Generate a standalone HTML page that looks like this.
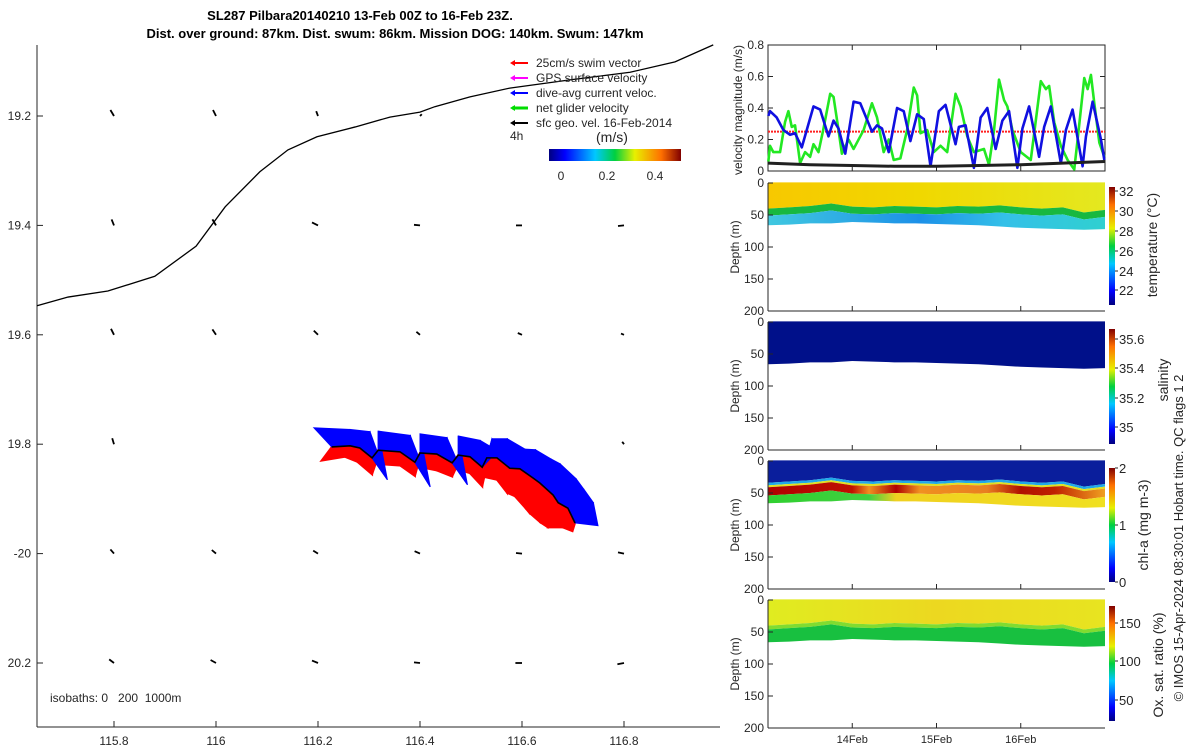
<!DOCTYPE html>
<html><head><meta charset="utf-8"><style>
body{margin:0;background:#fff;}
svg{display:block;font-family:"Liberation Sans","DejaVu Sans",sans-serif;}
text{fill:#262626;font-size:12px;}
</style></head><body>
<svg id="s" width="1200" height="750" viewBox="0 0 1200 750" xmlns="http://www.w3.org/2000/svg">
<defs>
<linearGradient id="jet" x1="0" y1="1" x2="0" y2="0">
<stop offset="0" stop-color="#00007f"/><stop offset="0.12" stop-color="#0000ff"/><stop offset="0.35" stop-color="#00c8ff"/><stop offset="0.5" stop-color="#00d040"/><stop offset="0.65" stop-color="#e8f000"/><stop offset="0.85" stop-color="#ff7000"/><stop offset="1" stop-color="#800000"/></linearGradient>
<linearGradient id="jeth" x1="0" y1="0" x2="1" y2="0">
<stop offset="0" stop-color="#00007f"/><stop offset="0.12" stop-color="#0000ff"/><stop offset="0.35" stop-color="#00c8ff"/><stop offset="0.5" stop-color="#00d040"/><stop offset="0.65" stop-color="#e8f000"/><stop offset="0.85" stop-color="#ff7000"/><stop offset="1" stop-color="#800000"/></linearGradient>
<linearGradient id="tTop" x1="0" y1="0" x2="1" y2="0"><stop offset="0" stop-color="#f7c800"/><stop offset="0.45" stop-color="#f0d800"/><stop offset="1" stop-color="#e4e820"/></linearGradient>
<linearGradient id="tLow" x1="0" y1="0" x2="1" y2="0"><stop offset="0" stop-color="#40c8e0"/><stop offset="0.45" stop-color="#1c90e8"/><stop offset="0.7" stop-color="#34c0e8"/><stop offset="1" stop-color="#30d0d0"/></linearGradient>
<linearGradient id="cRed" x1="0" y1="0" x2="1" y2="0"><stop offset="0" stop-color="#b00000"/><stop offset="0.25" stop-color="#c01000"/><stop offset="0.3" stop-color="#f09020"/><stop offset="0.38" stop-color="#b00000"/><stop offset="0.45" stop-color="#f09020"/><stop offset="0.65" stop-color="#e88020"/><stop offset="0.75" stop-color="#b01000"/><stop offset="0.85" stop-color="#c02000"/><stop offset="1" stop-color="#f0a020"/></linearGradient>
<linearGradient id="cLow" x1="0" y1="0" x2="1" y2="0"><stop offset="0" stop-color="#30d030"/><stop offset="0.3" stop-color="#40d040"/><stop offset="0.38" stop-color="#f0d020"/><stop offset="1" stop-color="#f0e020"/></linearGradient>
<linearGradient id="oTop" x1="0" y1="0" x2="1" y2="0"><stop offset="0" stop-color="#e0ec20"/><stop offset="0.5" stop-color="#ecd820"/><stop offset="1" stop-color="#e8e420"/></linearGradient>
</defs>
<g id="map"></g>
<g id="vel"></g>
<g id="sec"></g>
<text x="360" y="20" text-anchor="middle" style="font-weight:bold;font-size:13px;fill:#000">SL287 Pilbara20140210 13-Feb 00Z to 16-Feb 23Z.</text>
<text x="395" y="38" text-anchor="middle" style="font-weight:bold;font-size:13px;fill:#000">Dist. over ground: 87km. Dist. swum: 86km. Mission DOG: 140km. Swum: 147km</text>
<text transform="translate(1183,538) rotate(-90)" text-anchor="middle" style="font-size:13px">© IMOS 15-Apr-2024 08:30:01 Hobart time. QC flags 1  2</text>
</svg>
<script>
// ---------- data ----------
const coastLon=[115.649,115.710,115.788,115.880,115.961,116.018,116.086,116.141,116.198,116.273,116.341,116.400,116.429,116.498,116.576,116.694,116.812,116.900,116.975];
const coastLat=[19.547,19.531,19.520,19.493,19.438,19.366,19.302,19.262,19.238,19.220,19.202,19.193,19.183,19.165,19.149,19.134,19.120,19.101,19.070];
const trackLon=[116.227,116.263,116.282,116.306,116.318,116.361,116.390,116.400,116.433,116.463,116.475,116.498,116.522,116.531,116.551,116.576,116.596,116.622,116.635,116.661,116.671,116.690,116.704];
const trackLat=[19.805,19.803,19.807,19.825,19.811,19.814,19.833,19.816,19.818,19.834,19.820,19.823,19.842,19.825,19.825,19.844,19.845,19.862,19.871,19.893,19.907,19.917,19.944];
const curU=[-0.035,0.0,0.02,0.03,0.0,0.02,0.03,0.0,0.02,0.03,0.0,0.02,0.03,0.01,0.02,0.03,0.03,0.035,0.04,0.045,0.05,0.05,0.045];
const curV=[-0.035,-0.03,-0.03,0.04,-0.035,-0.03,0.045,-0.035,-0.03,0.04,-0.035,-0.03,-0.03,-0.035,-0.035,-0.035,-0.035,-0.035,-0.035,-0.03,-0.025,-0.01,0.005];
const swimU=[-0.02,-0.01,-0.005,0,-0.005,0,0,-0.005,0,0,-0.005,0,0,-0.005,0,-0.005,-0.01,-0.015,-0.02,-0.025,-0.02,-0.01,-0.005];
const swimV=[0.025,0.02,0.025,0.03,0.025,0.025,0.025,0.025,0.03,0.025,0.025,0.03,0.035,0.035,0.04,0.045,0.05,0.055,0.055,0.05,0.045,0.035,0.015];
const gridLon=[115.8,116.0,116.2,116.4,116.6,116.8];
const gridLat=[19.2,19.4,19.6,19.8,20.0,20.2];
const geoDx=[[-0.6,-0.5,-0.3,0.3,null,null],[-0.4,-0.6,-1,-1,-1,-1],[-0.5,-0.6,-0.7,-0.6,-0.7,-0.5],[-0.3,null,null,null,null,-0.3],[-0.6,-0.7,-0.8,-0.9,-1,-1],[-0.8,-0.9,-1,-1,-1.1,-1.1]];
const geoDy=[[-1,-1,-0.8,-0.3,null,null],[-1,-1,-0.5,-0.1,0,0.1],[-1,-0.9,-0.7,-0.5,-0.3,-0.2],[-1,null,null,null,null,-0.4],[-0.7,-0.6,-0.5,-0.4,-0.1,-0.2],[-0.6,-0.5,-0.4,-0.1,0,0.2]];
const lonTicks=[115.8,116.0,116.2,116.4,116.6,116.8];
const lonLabels=["115.8","116","116.2","116.4","116.6","116.8"];
const latTicks=[19.2,19.4,19.6,19.8,20.0,20.2];
const latLabels=["19.2","19.4","19.6","19.8","-20","20.2"];

const blueT=[0.004,0.024,0.103,0.183,0.262,0.321,0.401,0.540,0.619,0.718,0.778,0.837,0.917,1.016,1.095,1.234,1.294,1.353,1.433,1.532,1.611,1.690,1.770,1.849,1.929,2.028,2.107,2.226,2.266,2.345,2.444,2.524,2.603,2.702,2.782,2.861,2.960,3.020,3.099,3.218,3.278,3.357,3.476,3.536,3.615,3.734,3.774,3.853,3.952,3.992];
const blueV=[0.35,0.38,0.34,0.26,0.23,0.24,0.15,0.41,0.39,0.22,0.32,0.27,0.11,0.44,0.43,0.25,0.29,0.27,0.12,0.40,0.38,0.19,0.36,0.33,0.03,0.38,0.42,0.17,0.28,0.29,0.02,0.34,0.40,0.14,0.32,0.38,0.02,0.27,0.41,0.09,0.28,0.41,0.05,0.26,0.39,0.03,0.22,0.44,0.20,0.07];
const greenT=[0.004,0.024,0.063,0.143,0.202,0.242,0.282,0.321,0.381,0.440,0.5,0.540,0.599,0.659,0.738,0.778,0.837,0.877,0.956,1.016,1.135,1.234,1.294,1.373,1.433,1.492,1.571,1.651,1.730,1.770,1.810,1.889,1.968,2.048,2.127,2.226,2.286,2.365,2.444,2.563,2.623,2.683,2.742,2.802,2.841,2.901,3.0,3.119,3.238,3.298,3.337,3.397,3.476,3.556,3.635,3.675,3.754,3.794,3.833,3.873,3.933,3.992];
const greenV=[0.06,0.16,0.12,0.12,0.31,0.38,0.28,0.29,0.05,0.12,0.09,0.17,0.12,0.27,0.49,0.47,0.26,0.11,0.20,0.14,0.26,0.43,0.34,0.12,0.20,0.07,0.08,0.26,0.53,0.48,0.24,0.26,0.12,0.16,0.12,0.49,0.41,0.22,0.12,0.14,0.04,0.26,0.58,0.45,0.41,0.26,0.12,0.07,0.57,0.52,0.54,0.31,0.16,0.07,0.01,0.20,0.59,0.52,0.61,0.43,0.18,0.09];
const gpsT=[0,0.5,1,1.5,2,2.5,3,3.5,4];
const gpsV=[0.05,0.04,0.035,0.03,0.03,0.035,0.04,0.05,0.06];
const swimMag=0.25;
const velTicks=[0,0.2,0.4,0.6,0.8];

const secT=[0,0.25,0.5,0.75,1,1.25,1.5,1.75,2,2.25,2.5,2.75,3,3.25,3.5,3.75,4];
const bottomDepth=[66,65,63,63,61,62,63,63,64,65,66,68,70,71,72,73,72];
const mixedDepth=[40,38,36,32,37,38,36,37,38,36,37,35,38,40,38,46,42];
const depthTicks=[0,50,100,150,200];
const dayTicks=[1,2,3];
const dayLabels=["14Feb","15Feb","16Feb"];

// ---------- helpers ----------
const NS='http://www.w3.org/2000/svg';
function mk(tag,attrs,parent){const e=document.createElementNS(NS,tag);for(const k in attrs)e.setAttribute(k,attrs[k]);parent.appendChild(e);return e;}
function txt(str,x,y,anchor,parent){const t=mk('text',{x:x,y:y,'text-anchor':anchor},parent);t.textContent=str;return t;}
const mx=lon=>114+(lon-115.8)*510;
const my=lat=>116+(lat-19.2)*547;

// ---------- map ----------
const map=document.getElementById('map');
mk('line',{x1:37,y1:45,x2:37,y2:727,stroke:'#262626'},map);
mk('line',{x1:37,y1:727,x2:720,y2:727,stroke:'#262626'},map);
lonTicks.forEach((v,i)=>{mk('line',{x1:mx(v),y1:727,x2:mx(v),y2:721,stroke:'#262626'},map);
 const t=txt(lonLabels[i],mx(v),745,'middle',map);});
latTicks.forEach((v,i)=>{mk('line',{x1:37,y1:my(v),x2:43,y2:my(v),stroke:'#262626'},map);
 const t=txt(latLabels[i],31,my(v)+4,'end',map);});
const coast=mk('polyline',{points:coastLon.map((l,i)=>mx(l)+','+my(coastLat[i])).join(' '),fill:'none',stroke:'#000','stroke-width':1.3},map);

gridLat.forEach((la,r)=>gridLon.forEach((lo,c)=>{const dx=geoDx[r][c];if(dx===null)return;const dy=geoDy[r][c];
 const x=mx(lo),y=my(la);const a=mk('line',{x1:x,y1:y,x2:x+dx*6,y2:y+dy*6,stroke:'#000','stroke-width':1.8},map);
 }));
for(let i=0;i<trackLon.length-1;i++){
 const p=[[trackLon[i],trackLat[i]],[trackLon[i+1],trackLat[i+1]],[trackLon[i+1]+swimU[i+1],trackLat[i+1]+swimV[i+1]],[trackLon[i]+swimU[i],trackLat[i]+swimV[i]]];
 const r=mk('polygon',{points:p.map(q=>mx(q[0])+','+my(q[1])).join(' '),fill:'#ff0000',stroke:'#ff0000','stroke-width':2},map);
 }
for(let i=0;i<trackLon.length-1;i++){
 const p=[[trackLon[i],trackLat[i]],[trackLon[i+1],trackLat[i+1]],[trackLon[i+1]+curU[i+1],trackLat[i+1]+curV[i+1]],[trackLon[i]+curU[i],trackLat[i]+curV[i]]];
 const b=mk('polygon',{points:p.map(q=>mx(q[0])+','+my(q[1])).join(' '),fill:'#0000ff',stroke:'#0000ff','stroke-width':1},map);
 }
const tr=mk('polyline',{points:trackLon.map((l,i)=>mx(l)+','+my(trackLat[i])).join(' '),fill:'none',stroke:'#000','stroke-width':1.6},map);

const iso=txt('isobaths: 0   200  1000m',50,702,'start',map);iso.setAttribute('style','white-space:pre');
const legItems=[['25cm/s swim vector','#ff0000'],['GPS surface velocity','#ff00ff'],['dive-avg current veloc.','#0000ff'],['net glider velocity','#00dd00'],['sfc geo. vel. 16-Feb-2014','#000']];
legItems.forEach((it,i)=>{const y=63+i*15;
 const g=mk('g',{},map);
 mk('line',{x1:512,y1:y,x2:528,y2:y,stroke:it[1],'stroke-width':i==3?3:2},g);
 mk('polygon',{points:`510,${y} 515,${y-3} 515,${y+3}`,fill:it[1]},g);
 txt(it[0],536,y+4,'start',g);});
txt('4h',510,140,'start',map);
txt('(m/s)',596,142,'start',map).setAttribute('style','font-size:14px');
mk('rect',{x:549,y:149,width:132,height:12,fill:'url(#jeth)'},map);
[[0,561],[0.2,607],[0.4,655]].forEach(v=>{txt(v[0]===0?'0':String(v[0]),v[1],180,'middle',map);});

// ---------- velocity panel ----------
const vel=document.getElementById('vel');
const vx=t=>768+t*84.25, vy=v=>171-v*157.5;
mk('rect',{x:768,y:45,width:337,height:126,fill:'none',stroke:'#262626'},vel);
velTicks.forEach(v=>{mk('line',{x1:768,y1:vy(v),x2:773,y2:vy(v),stroke:'#262626'},vel);mk('line',{x1:1105,y1:vy(v),x2:1100,y2:vy(v),stroke:'#262626'},vel);
 const t=txt(String(v),764,vy(v)+4,'end',vel);});
dayTicks.forEach(d=>{mk('line',{x1:vx(d),y1:171,x2:vx(d),y2:166,stroke:'#262626'},vel);mk('line',{x1:vx(d),y1:45,x2:vx(d),y2:50,stroke:'#262626'},vel);});
const yl=txt('velocity magnitude (m/s)',0,0,'middle',vel);yl.setAttribute('transform','translate(742,110) rotate(-90)');
const sw=mk('line',{x1:vx(0),y1:vy(swimMag),x2:vx(4),y2:vy(swimMag),stroke:'#ff2020','stroke-width':2,'stroke-dasharray':'2,1'},vel);
function series(T,V,col,w,name){const p=mk('polyline',{points:T.map((t,i)=>vx(t)+','+vy(V[i])).join(' '),fill:'none',stroke:col,'stroke-width':w,'stroke-linejoin':'round'},vel);}
series(greenT,greenV,'#22e822',2.6,'net-glider-velocity-line');
series(blueT,blueV,'#1010e0',2.6,'dive-avg-current-line');
series(gpsT,gpsV,'#202020',3,'sfc-velocity-line');

// ---------- section panels ----------
const sec=document.getElementById('sec');
const panels=[
 {top:183,name:'temperature',cb:[187,305],ticks:[[32,191],[30,211],[28,231],[26,251],[24,271],[22,290]],label:'temperature (°C)',lx:1157,ly:245},
 {top:322,name:'salinity',cb:[329,444],ticks:[[35.6,339],[35.4,368],[35.2,398],[35,427]],label:'salinity',lx:1168,ly:380},
 {top:461,name:'chlorophyll',cb:[468,582],ticks:[[2,468],[1,525],[0,582]],label:'chl-a (mg m-3)',lx:1148,ly:525},
 {top:600,name:'oxygen-saturation',cb:[606,721],ticks:[[150,623],[100,661],[50,700]],label:'Ox. sat. ratio (%)',lx:1163,ly:665}];
const sx=t=>768+t*84.25;
panels.forEach((P,pi)=>{
 const g=mk('g',{},sec);
 const sy=d=>P.top+d*0.64;
 function band(topArr,botArr,fill,name){const pts=secT.map((t,i)=>sx(t)+','+sy(topArr[i])).concat(secT.map((t,i)=>sx(t)+','+sy(botArr[i])).reverse());
  const p=mk('polygon',{points:pts.join(' '),fill:fill},g);}
 const zero=secT.map(()=>-1);
 if(pi===0){band(zero,mixedDepth,'url(#tTop)','warm-layer');band(mixedDepth,mixedDepth.map(d=>d+11),'#18b840','thermocline-band');band(mixedDepth.map(d=>d+11),bottomDepth,'url(#tLow)','cool-layer');}
 if(pi===1){band(zero,bottomDepth,'#00108a','salinity-layer');}
 if(pi===2){band(zero,mixedDepth.map(d=>d-6),'#0a1e9c','low-chl-layer');band(mixedDepth.map(d=>d-6),mixedDepth.map(d=>d-2),'#20a8e8','chl-edge');band(mixedDepth.map(d=>d-2),mixedDepth.map(d=>d+1),'#e0e020','chl-rise');band(mixedDepth.map(d=>d+1),mixedDepth.map(d=>d+14),'url(#cRed)','chl-max');band(mixedDepth.map(d=>d+14),bottomDepth,'url(#cLow)','chl-deep');}
 if(pi===3){band(zero,mixedDepth,'url(#oTop)','oxy-surface');band(mixedDepth,mixedDepth.map(d=>d+6),'#80dc30','oxy-transition');band(mixedDepth.map(d=>d+6),bottomDepth,'#18c040','oxy-deep');}
 mk('line',{x1:768,y1:P.top,x2:768,y2:P.top+128,stroke:'#262626'},g);
 mk('line',{x1:768,y1:P.top+128,x2:1105,y2:P.top+128,stroke:'#262626'},g);
 depthTicks.forEach(d=>{mk('line',{x1:768,y1:sy(d),x2:773,y2:sy(d),stroke:'#262626'},g);const t=txt(String(d),764,sy(d)+4,'end',g);});
 dayTicks.forEach(d=>mk('line',{x1:sx(d),y1:P.top+128,x2:sx(d),y2:P.top+123,stroke:'#262626'},g));
 const dl=txt('Depth (m)',0,0,'middle',g);dl.setAttribute('transform',`translate(739,${P.top+64}) rotate(-90)`);
 const cb=mk('rect',{x:1109,y:P.cb[0],width:6,height:P.cb[1]-P.cb[0],fill:'url(#jet)'},g);
 P.ticks.forEach(tk=>{mk('line',{x1:1115,y1:tk[1],x2:1118,y2:tk[1],stroke:'#262626'},g);txt(String(tk[0]),1119,tk[1]+5,'start',g).setAttribute('style','font-size:13px');});
 const cl=txt(P.label,0,0,'middle',g);cl.setAttribute('transform',`translate(${P.lx},${P.ly}) rotate(-90)`);cl.setAttribute('style','font-size:14px');
});
dayTicks.forEach((d,i)=>{const t=txt(dayLabels[i],sx(d),743,'middle',sec);t.setAttribute('style','font-size:11px');});
</script>
</body></html>
